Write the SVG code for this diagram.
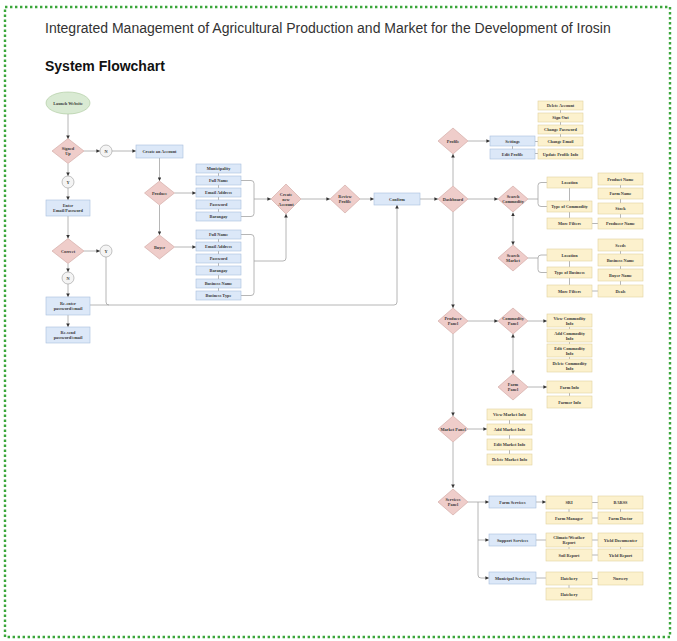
<svg xmlns="http://www.w3.org/2000/svg" width="677" height="641" viewBox="0 0 677 641">
<defs>
<marker id="a" viewBox="0 0 6 6" refX="6" refY="3" markerWidth="3.6" markerHeight="3.6" markerUnits="userSpaceOnUse" orient="auto-start-reverse"><path d="M0,0 L6,3 L0,6 z" fill="#333"/></marker>
</defs>
<style>
.t{font-family:"Liberation Serif",serif;font-size:4.3px;font-weight:bold;fill:#3a3a3a;text-anchor:middle;dominant-baseline:central}
.d{fill:#efcdca;stroke:#cfa4a0;stroke-width:0.6}
.b{fill:#dce8f8;stroke:#a9bedc;stroke-width:0.6}
.y{fill:#fcf1cd;stroke:#e2d29f;stroke-width:0.6}
.e{fill:#d9ead3;stroke:#a9c79b;stroke-width:0.6}
.c{fill:#f4f4f4;stroke:#9a9a9a;stroke-width:0.6}
.l{fill:none;stroke:#a3a3a3;stroke-width:0.8}
.ar{marker-end:url(#a)}
.ab{marker-end:url(#a);marker-start:url(#a)}
</style>
<rect x="0" y="0" width="677" height="641" fill="#fff"/>
<rect x="5" y="7" width="665" height="630" fill="none" stroke="#3aa63a" stroke-width="2.4" stroke-dasharray="2.4 2.6"/>
<text x="45" y="33" font-family="Liberation Sans, Arial, sans-serif" font-size="14" fill="#333">Integrated Management of Agricultural Production and Market for the Development of Irosin</text>
<text x="45" y="71" font-family="Liberation Sans, Arial, sans-serif" font-size="14" font-weight="bold" fill="#111">System Flowchart</text>

<g id="connectors">
<path class="l ar" d="M68,114 V139"/>
<path class="l ar" d="M84,151 H100"/>
<path class="l ar" d="M112,151 H136"/>
<path class="l ar" d="M68,163.5 V176"/>
<path class="l ar" d="M68,188 V200"/>
<path class="l ar" d="M68,216 V238.5"/>
<path class="l ar" d="M84,251 H100"/>
<path class="l ar" d="M68,263.5 V272"/>
<path class="l ar" d="M68,284 V297"/>
<path class="l ar" d="M68,315 V327"/>
<path class="l" d="M106,257 V302 Q106,305 109,305"/>
<path class="l ar" d="M90,305 H394 Q397,305 397,302 V205"/>
<path class="l ar" d="M159.5,158 V181"/>
<path class="l ar" d="M159.5,205 V235"/>
<path class="l ar" d="M174.5,193 H196"/>
<path class="l ar" d="M174.5,247 H196"/>
<path class="l" d="M218.5,173 V176 M218.5,185 V188 M218.5,197 V200 M218.5,209 V212"/>
<path class="l" d="M218.5,239 V242 M218.5,251 V254 M218.5,263 V266 M218.5,275 V279 M218.5,288 V291"/>
<path class="l" d="M241,180.5 H251 Q254,180.5 254,183.5 V213.5 Q254,216.5 251,216.5 H241"/>
<path class="l ar" d="M254,199 H271"/>
<path class="l" d="M241,234.5 H251 Q254,234.5 254,237.5 V292.5 Q254,295.5 251,295.5 H241"/>
<path class="l ar" d="M254,261 H283 Q286,261 286,258 V214"/>
<path class="l ar" d="M301,199 H330"/>
<path class="l ar" d="M360,199 H374"/>
<path class="l ar" d="M420,199 H438"/>
<path class="l ar" d="M453,186 V154"/>
<path class="l ar" d="M468,141 H490"/>
<path class="l" d="M512.5,146 V149 M535,141.5 H538 M535,153.5 H538"/>
<path class="l" d="M560.5,110 V113 M560.5,122 V125 M560.5,134 V137"/>
<path class="l ar" d="M468,199 H498"/>
<path class="l" d="M528,199 H538 M547,182.5 H541 Q538,182.5 538,185.5 V203.5 Q538,206.5 541,206.5 H547"/>
<path class="l" d="M569.5,188 V201 M569.5,212 V218 M592,223.5 H598"/>
<path class="l" d="M620.5,185 V188 M620.5,199 V203 M620.5,214 V218"/>
<path class="l ab" d="M513,212.5 V245"/>
<path class="l" d="M528,258 H538 M547,255 H541 Q538,255 538,258 V269.5 Q538,272.5 541,272.5 H547"/>
<path class="l" d="M569.5,261 V267 M569.5,278 V285 M592,291 H598"/>
<path class="l" d="M620.5,251 V254 M620.5,266 V269 M620.5,281 V285"/>
<path class="l ar" d="M453,212 V308"/>
<path class="l ar" d="M468,321 H498"/>
<path class="l ar" d="M528,321 H547"/>
<path class="l" d="M569.5,327 V329 M569.5,342 V344 M569.5,357 V359"/>
<path class="l ab" d="M513,334 V374"/>
<path class="l ar" d="M528,387 H547"/>
<path class="l" d="M569.5,393 V396"/>
<path class="l ar" d="M453,334 V416"/>
<path class="l ar" d="M468,429 H487"/>
<path class="l" d="M509.5,420 V424 M509.5,435 V439 M509.5,450 V454"/>
<path class="l ar" d="M453,442 V488"/>
<path class="l ar" d="M468,502 H489"/>
<path class="l" d="M478,502 V575 Q478,578 481,578"/>
<path class="l ar" d="M481,578 H489"/>
<path class="l ar" d="M478,540 H489"/>
<path class="l ar" d="M536,502 H546"/>
<path class="l" d="M592,502.5 H598 M592,518 H598 M569,509 V512 M620.5,509 V512"/>
<path class="l" d="M536,540 H546 M592,540 H598 M592,555 H598 M569,547 V549 M620.5,547 V549"/>
<path class="l" d="M536,578 H546 M592,578.5 H598 M569,585 V588"/>
</g>

<g id="launch"><ellipse class="e" cx="68" cy="103" rx="22" ry="11"/><text class="t" x="68" y="103">Launch Website</text></g>
<g id="signedup"><polygon class="d" points="68,138.5 84,151 68,163.5 52,151"/><text class="t" x="68" y="148.5">Signed</text><text class="t" x="68" y="153.5">Up</text></g>
<g id="n1"><circle class="c" cx="106" cy="151" r="6"/><text class="t" x="106" y="151">N</text></g>
<g id="create"><rect class="b" x="136" y="145" width="47" height="13"/><text class="t" x="159.5" y="151.5">Create an Account</text></g>
<g id="y1"><circle class="c" cx="68" cy="182" r="6"/><text class="t" x="68" y="182">Y</text></g>
<g id="enter"><rect class="b" x="46" y="200" width="44" height="16"/><text class="t" x="68" y="205.5">Enter</text><text class="t" x="68" y="210.5">Email/Password</text></g>
<g id="correct"><polygon class="d" points="68,238.5 84,251 68,263.5 52,251"/><text class="t" x="68" y="251">Correct</text></g>
<g id="y2"><circle class="c" cx="106" cy="251" r="6"/><text class="t" x="106" y="251">Y</text></g>
<g id="n2"><circle class="c" cx="68" cy="278" r="6"/><text class="t" x="68" y="278">N</text></g>
<g id="reenter"><rect class="b" x="46" y="297" width="44" height="18"/><text class="t" x="68" y="303.5">Re-enter</text><text class="t" x="68" y="308.5">password/email</text></g>
<g id="resend"><rect class="b" x="46" y="327" width="44" height="16"/><text class="t" x="68" y="332.5">Re-send</text><text class="t" x="68" y="337.5">password/email</text></g>

<g id="produce"><polygon class="d" points="159.5,181 174.5,193 159.5,205 144.5,193"/><text class="t" x="159.5" y="193">Produce</text></g>
<g id="buyer"><polygon class="d" points="159.5,235 174.5,247 159.5,259 144.5,247"/><text class="t" x="159.5" y="247">Buyer</text></g>

<g id="p-municipality"><rect class="b" x="196" y="164" width="45" height="9"/><text class="t" x="218.5" y="168.5">Municipality</text></g>
<g id="p-fullname"><rect class="b" x="196" y="176" width="45" height="9"/><text class="t" x="218.5" y="180.5">Full Name</text></g>
<g id="p-email"><rect class="b" x="196" y="188" width="45" height="9"/><text class="t" x="218.5" y="192.5">Email Address</text></g>
<g id="p-password"><rect class="b" x="196" y="200" width="45" height="9"/><text class="t" x="218.5" y="204.5">Password</text></g>
<g id="p-barangay"><rect class="b" x="196" y="212" width="45" height="9"/><text class="t" x="218.5" y="216.5">Barangay</text></g>

<g id="b-fullname"><rect class="b" x="196" y="230" width="45" height="9"/><text class="t" x="218.5" y="234.5">Full Name</text></g>
<g id="b-email"><rect class="b" x="196" y="242" width="45" height="9"/><text class="t" x="218.5" y="246.5">Email Address</text></g>
<g id="b-password"><rect class="b" x="196" y="254" width="45" height="9"/><text class="t" x="218.5" y="258.5">Password</text></g>
<g id="b-barangay"><rect class="b" x="196" y="266" width="45" height="9"/><text class="t" x="218.5" y="270.5">Barangay</text></g>
<g id="b-bname"><rect class="b" x="196" y="279" width="45" height="9"/><text class="t" x="218.5" y="283.5">Business Name</text></g>
<g id="b-btype"><rect class="b" x="196" y="291" width="45" height="9"/><text class="t" x="218.5" y="295.5">Business Type</text></g>

<g id="createnew"><polygon class="d" points="286,184 301,199 286,214 271,199"/><text class="t" x="286" y="194">Create</text><text class="t" x="286" y="199">new</text><text class="t" x="286" y="204">Account</text></g>
<g id="review"><polygon class="d" points="345,185 360,199 345,213 330,199"/><text class="t" x="345" y="196.5">Review</text><text class="t" x="345" y="201.5">Profile</text></g>
<g id="confirm"><rect class="b" x="374" y="193" width="46" height="12"/><text class="t" x="397" y="199">Confirm</text></g>
<g id="dashboard"><polygon class="d" points="453,186 468,199 453,212 438,199"/><text class="t" x="453" y="199">Dashboard</text></g>

<g id="profile"><polygon class="d" points="453,128 468,141 453,154 438,141"/><text class="t" x="453" y="141">Profile</text></g>
<g id="settings"><rect class="b" x="490" y="136" width="45" height="10"/><text class="t" x="512.5" y="141">Settings</text></g>
<g id="editprofile"><rect class="b" x="490" y="149" width="45" height="10"/><text class="t" x="512.5" y="154">Edit Profile</text></g>
<g id="deleteaccount"><rect class="y" x="538" y="101" width="45" height="9"/><text class="t" x="560.5" y="105.5">Delete Account</text></g>
<g id="signout"><rect class="y" x="538" y="113" width="45" height="9"/><text class="t" x="560.5" y="117.5">Sign Out</text></g>
<g id="changepassword"><rect class="y" x="538" y="125" width="45" height="9"/><text class="t" x="560.5" y="129.5">Change Password</text></g>
<g id="changeemail"><rect class="y" x="538" y="137" width="45" height="9"/><text class="t" x="560.5" y="141.5">Change Email</text></g>
<g id="updateprofile"><rect class="y" x="538" y="149" width="45" height="10"/><text class="t" x="560.5" y="154">Update Profile Info</text></g>

<g id="searchcommodity"><polygon class="d" points="513,186 528,199 513,212 498,199"/><text class="t" x="513" y="196.5">Search</text><text class="t" x="513" y="201.5">Commodity</text></g>
<g id="sc-location"><rect class="y" x="547" y="177" width="45" height="11"/><text class="t" x="569.5" y="182.5">Location</text></g>
<g id="sc-type"><rect class="y" x="547" y="201" width="45" height="11"/><text class="t" x="569.5" y="206.5">Type of Commodity</text></g>
<g id="sc-more"><rect class="y" x="547" y="218" width="45" height="11"/><text class="t" x="569.5" y="223.5">More Filters</text></g>
<g id="productname"><rect class="y" x="598" y="173" width="45" height="12"/><text class="t" x="620.5" y="179">Product Name</text></g>
<g id="farmname"><rect class="y" x="598" y="188" width="45" height="11"/><text class="t" x="620.5" y="193.5">Farm Name</text></g>
<g id="stock"><rect class="y" x="598" y="203" width="45" height="11"/><text class="t" x="620.5" y="208.5">Stock</text></g>
<g id="producername"><rect class="y" x="598" y="218" width="45" height="11"/><text class="t" x="620.5" y="223.5">Producer Name</text></g>

<g id="searchmarket"><polygon class="d" points="513,245 528,258 513,271 498,258"/><text class="t" x="513" y="255.5">Search</text><text class="t" x="513" y="260.5">Market</text></g>
<g id="sm-location"><rect class="y" x="547" y="249" width="45" height="12"/><text class="t" x="569.5" y="255">Location</text></g>
<g id="sm-type"><rect class="y" x="547" y="267" width="45" height="11"/><text class="t" x="569.5" y="272.5">Type of Business</text></g>
<g id="sm-more"><rect class="y" x="547" y="285" width="45" height="12"/><text class="t" x="569.5" y="291">More Filters</text></g>
<g id="seeds"><rect class="y" x="598" y="239" width="45" height="12"/><text class="t" x="620.5" y="245">Seeds</text></g>
<g id="businessname"><rect class="y" x="598" y="254" width="45" height="12"/><text class="t" x="620.5" y="260">Business Name</text></g>
<g id="buyername"><rect class="y" x="598" y="269" width="45" height="12"/><text class="t" x="620.5" y="275">Buyer Name</text></g>
<g id="deals"><rect class="y" x="598" y="285" width="45" height="12"/><text class="t" x="620.5" y="291">Deals</text></g>

<g id="producerpanel"><polygon class="d" points="453,308 468,321 453,334 438,321"/><text class="t" x="453" y="318.5">Producer</text><text class="t" x="453" y="323.5">Panel</text></g>
<g id="commoditypanel"><polygon class="d" points="513,308 528,321 513,334 498,321"/><text class="t" x="513" y="318.5">Commodity</text><text class="t" x="513" y="323.5">Panel</text></g>
<g id="viewcommodity"><rect class="y" x="547" y="314" width="45" height="13"/><text class="t" x="569.5" y="318">View Commodity</text><text class="t" x="569.5" y="323">Info</text></g>
<g id="addcommodity"><rect class="y" x="547" y="329" width="45" height="13"/><text class="t" x="569.5" y="333">Add Commodity</text><text class="t" x="569.5" y="338">Info</text></g>
<g id="editcommodity"><rect class="y" x="547" y="344" width="45" height="13"/><text class="t" x="569.5" y="348">Edit Commodity</text><text class="t" x="569.5" y="353">Info</text></g>
<g id="deletecommodity"><rect class="y" x="547" y="359" width="45" height="13"/><text class="t" x="569.5" y="363">Delete Commodity</text><text class="t" x="569.5" y="368">Info</text></g>
<g id="farmpanel"><polygon class="d" points="513,374 528,387 513,400 498,387"/><text class="t" x="513" y="384.5">Farm</text><text class="t" x="513" y="389.5">Panel</text></g>
<g id="farminfo"><rect class="y" x="547" y="381" width="45" height="12"/><text class="t" x="569.5" y="387">Farm Info</text></g>
<g id="farmerinfo"><rect class="y" x="547" y="396" width="45" height="12"/><text class="t" x="569.5" y="402">Farmer Info</text></g>

<g id="marketpanel"><polygon class="d" points="453,416 468,429 453,442 438,429"/><text class="t" x="453" y="429">Market Panel</text></g>
<g id="viewmarket"><rect class="y" x="487" y="409" width="45" height="11"/><text class="t" x="509.5" y="414.5">View Market Info</text></g>
<g id="addmarket"><rect class="y" x="487" y="424" width="45" height="11"/><text class="t" x="509.5" y="429.5">Add Market Info</text></g>
<g id="editmarket"><rect class="y" x="487" y="439" width="45" height="11"/><text class="t" x="509.5" y="444.5">Edit Market Info</text></g>
<g id="deletemarket"><rect class="y" x="487" y="454" width="45" height="11"/><text class="t" x="509.5" y="459.5">Delete Market Info</text></g>

<g id="servicespanel"><polygon class="d" points="453,489 468,502 453,515 438,502"/><text class="t" x="453" y="499.5">Services</text><text class="t" x="453" y="504.5">Panel</text></g>
<g id="farmservices"><rect class="b" x="489" y="496" width="47" height="12"/><text class="t" x="512.5" y="502">Farm Services</text></g>
<g id="supportservices"><rect class="b" x="489" y="534" width="47" height="12"/><text class="t" x="512.5" y="540">Support Services</text></g>
<g id="municipalservices"><rect class="b" x="489" y="572" width="47" height="12"/><text class="t" x="512.5" y="578">Municipal Services</text></g>
<g id="sri"><rect class="y" x="546" y="496" width="46" height="13"/><text class="t" x="569" y="502.5">SRI</text></g>
<g id="barss"><rect class="y" x="598" y="496" width="45" height="13"/><text class="t" x="620.5" y="502.5">BARSS</text></g>
<g id="farmmanager"><rect class="y" x="546" y="512" width="46" height="12"/><text class="t" x="569" y="518">Farm Manager</text></g>
<g id="farmdoctor"><rect class="y" x="598" y="512" width="45" height="12"/><text class="t" x="620.5" y="518">Farm Doctor</text></g>
<g id="climate"><rect class="y" x="546" y="533" width="46" height="14"/><text class="t" x="569" y="537.5">Climate/Weather</text><text class="t" x="569" y="542.5">Report</text></g>
<g id="yielddoc"><rect class="y" x="598" y="533" width="45" height="14"/><text class="t" x="620.5" y="540">Yield Documenter</text></g>
<g id="soilreport"><rect class="y" x="546" y="549" width="46" height="12"/><text class="t" x="569" y="555">Soil Report</text></g>
<g id="yieldreport"><rect class="y" x="598" y="549" width="45" height="12"/><text class="t" x="620.5" y="555">Yield Report</text></g>
<g id="hatchery1"><rect class="y" x="546" y="572" width="46" height="13"/><text class="t" x="569" y="578.5">Hatchery</text></g>
<g id="nursery"><rect class="y" x="598" y="572" width="45" height="13"/><text class="t" x="620.5" y="578.5">Nursery</text></g>
<g id="hatchery2"><rect class="y" x="546" y="588" width="46" height="12"/><text class="t" x="569" y="594">Hatchery</text></g>
</svg>
